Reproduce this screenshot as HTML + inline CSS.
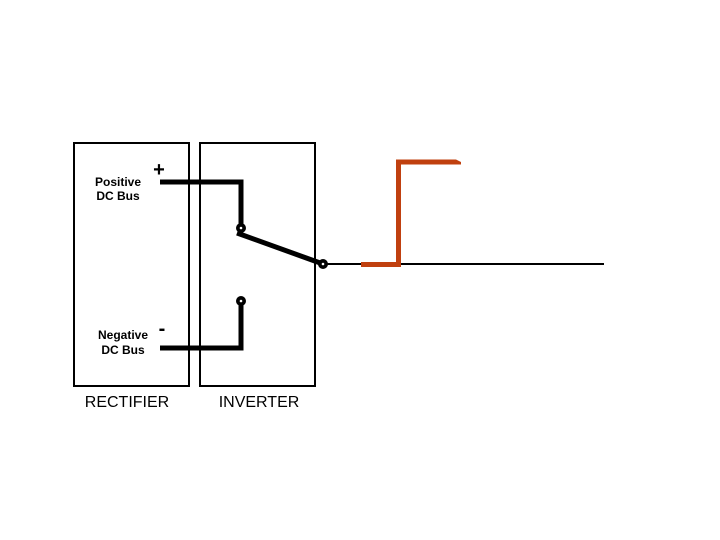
<!DOCTYPE html>
<html><head><style>body{margin:0;background:#fff}</style></head><body>
<svg width="720" height="540" xmlns="http://www.w3.org/2000/svg" style="display:block">
<rect width="720" height="540" fill="#fff"/>
<rect x="74" y="143" width="115" height="243" fill="none" stroke="#000" stroke-width="2"/>
<rect x="200" y="143" width="115" height="243" fill="none" stroke="#000" stroke-width="2"/>
<polyline points="160,182 241,182 241,228" fill="none" stroke="#000" stroke-width="5"/>
<polyline points="160,348 241,348 241,301" fill="none" stroke="#000" stroke-width="5"/>
<line x1="237" y1="233" x2="323" y2="264" stroke="#000" stroke-width="5"/>
<line x1="323" y1="264" x2="604" y2="264" stroke="#000" stroke-width="2"/>
<polyline points="361,264.5 398.5,264.5 398.5,162 456,162" fill="none" stroke="#c0400f" stroke-width="5"/>
<polygon points="456,159.5 461,162 461,164.5 456,164.5" fill="#c0400f"/>
<circle cx="241" cy="228" r="5" fill="#000"/><circle cx="241" cy="228" r="1.3" fill="#fff"/>
<circle cx="241" cy="301" r="5" fill="#000"/><circle cx="241" cy="301" r="1.3" fill="#fff"/>
<circle cx="323" cy="264" r="5" fill="#000"/><circle cx="323" cy="264" r="1.3" fill="#fff"/>
<g font-family="Liberation Sans, sans-serif" fill="#000">
<text x="118" y="186" font-size="12" font-weight="bold" text-anchor="middle">Positive</text>
<text x="118" y="200" font-size="12" font-weight="bold" text-anchor="middle">DC Bus</text>
<text x="123" y="339" font-size="12" font-weight="bold" text-anchor="middle">Negative</text>
<text x="123" y="354" font-size="12" font-weight="bold" text-anchor="middle">DC Bus</text>
<text x="159" y="176" font-size="20" font-weight="bold" text-anchor="middle">+</text>
<text x="162" y="335" font-size="20" font-weight="bold" text-anchor="middle">-</text>
<text x="127" y="407" font-size="16" text-anchor="middle">RECTIFIER</text>
<text x="259" y="407" font-size="16" text-anchor="middle">INVERTER</text>
</g>
</svg>
</body></html>
